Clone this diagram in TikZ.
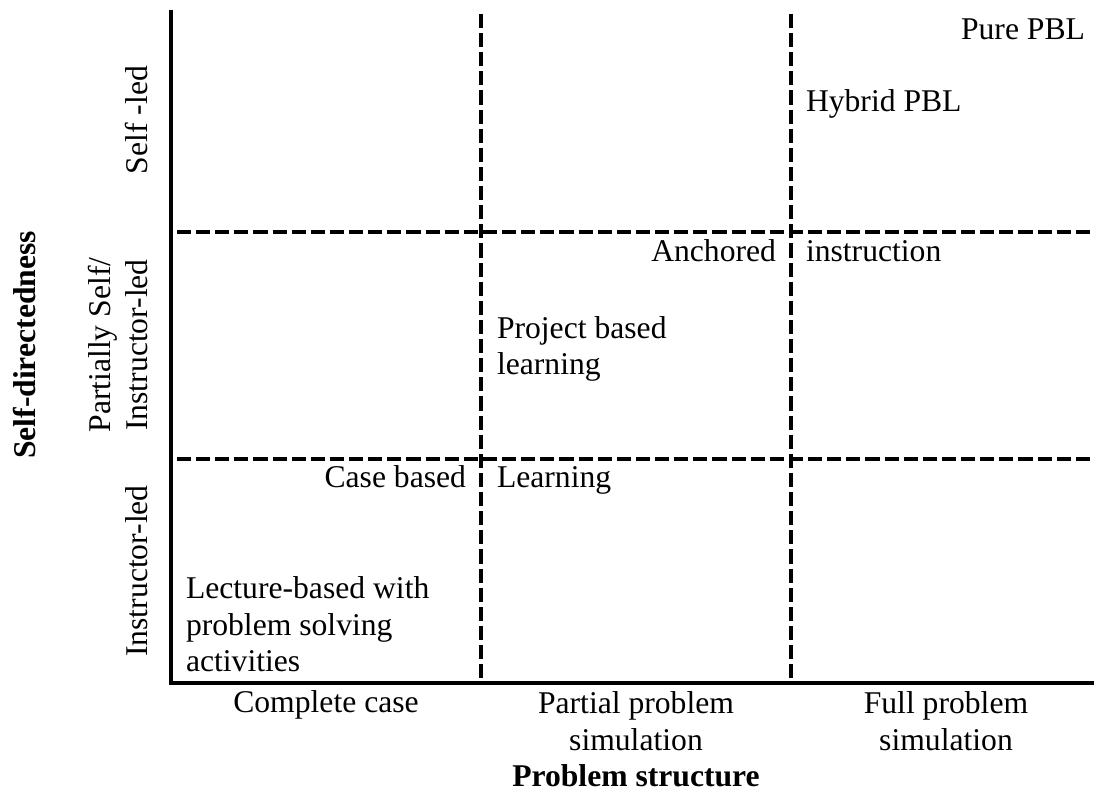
\documentclass[tikz,border=0pt]{standalone}
\usepackage{fontspec}
\setmainfont{Liberation Serif}
\usetikzlibrary{positioning}
\tikzset{%
	% Specifications for style of lines and labels:
	axis/.style = {line width=2.8pt, line join=miter},
	divider/.style = {line width=2.8pt, dash pattern=on 10pt off 3.6pt},
	base/.style = {inner sep=0pt, outer sep=0pt,
		font=\fontsize{22.5}{26.3}\selectfont},
	cellLeft/.style = {base, anchor=base west, align=left},
	cellRight/.style = {base, anchor=base east, align=right},
	colLabel/.style = {base, anchor=base, align=center},
	rowLabel/.style = {base, anchor=base, rotate=90, align=center},
	axisTitle/.style = {base, anchor=base, font=\fontsize{22.5}{26.3}\selectfont\bfseries},
}
\begin{document}
\begin{tikzpicture}[x=0.025cm, y=-0.025cm]
	\useasboundingbox (0,0) rectangle (1094,793);
	
	% grid
	\coordinate (top) at (171,10);
	\coordinate (origin) at (171,683);
	\coordinate (right) at (1094,683);
	\draw[axis] (top) -- (origin) -- (right);
	\draw[divider] (481,14) -- (481,681);
	\draw[divider] (791,14) -- (791,681);
	\draw[divider] (177,232) -- (1094,232);
	\draw[divider] (177,459) -- (1094,459);
	
	% cells
	\node (pure) [cellRight] at (1085,40) {Pure PBL};
	\node (hybrid) [cellLeft] at (806,112) {Hybrid PBL};
	\node (anchored) [cellRight] at (776,262) {Anchored};
	\node (instruction) [cellLeft] at (806,262) {instruction};
	\node (project) [cellLeft] at (497,375) {Project based\\learning};
	\node (casebased) [cellRight] at (466,488) {Case based};
	\node (learning) [cellLeft] at (497,488) {Learning};
	\node (lecture) [cellLeft] at (186,672) {Lecture-based with\\problem solving\\activities};
	
	% problem structure
	\node (complete) [colLabel] at (326,713) {Complete case};
	\node (partial) [colLabel] at (636,750) {Partial problem\\simulation};
	\node (full) [colLabel] at (946,750) {Full problem\\simulation};
	\node (structure) [axisTitle] at (636,786) {Problem structure};
	
	% self-directedness
	\node (selfled) [rowLabel] at (147,120) {Self -led};
	\node (partially) [rowLabel] at (147,345) {Partially Self/\\Instructor-led};
	\node (instructorled) [rowLabel] at (147,571) {Instructor-led};
	\node (directedness) [axisTitle, rotate=90] at (35,345) {Self-directedness};
\end{tikzpicture}
\end{document}
